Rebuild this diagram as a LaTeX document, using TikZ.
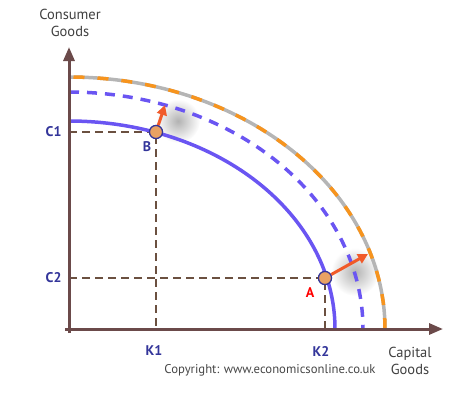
\documentclass[tikz,border=0pt]{standalone}
\usepackage{fontspec}
\setmainfont{PT Sans}
\usetikzlibrary{arrows.meta}
\definecolor{axiscol}{HTML}{6B4A4A}
\definecolor{ppfblue}{HTML}{6A55F2}
\definecolor{ppforange}{HTML}{F7941D}
\definecolor{ppfgray}{HTML}{B5B5B5}
\definecolor{arrowcol}{HTML}{F15A29}
\definecolor{navy}{HTML}{33359A}
\definecolor{dotfill}{HTML}{E9A263}
\definecolor{guide}{HTML}{6B5040}
\begin{document}
\begin{tikzpicture}[x=1pt,y=-1pt,
  axis/.style={axiscol,line width=3pt,-{Triangle[length=14pt,width=11pt]}},
  guideline/.style={guide,line width=1.1pt,dash pattern=on 8pt off 5pt},
  ppf/.style={ppfblue,line width=3.5pt},
  shiftarrow/.style={arrowcol,line width=3pt,-{Triangle[length=10pt,width=10pt]}},
  dot/.style={circle,draw=navy,fill=dotfill,line width=1.2pt,minimum size=13pt,inner sep=0pt},
  axlabel/.style={font=\fontsize{14.5}{17}\selectfont,text=black!75,align=center},
  ticklabel/.style={font=\bfseries\fontsize{14}{16}\selectfont,text=navy},
  ptlabel/.style={font=\bfseries\fontsize{14}{16}\selectfont}]
\useasboundingbox (0,0) rectangle (473,412);
% shadows
\shade[inner color=black!30,outer color=white] (178,121) circle (22);
\shade[inner color=black!30,outer color=white] (355,272) circle (24);
% coordinates
\coordinate (O) at (69,329);
\coordinate (ytop) at (69,47);
\coordinate (xend) at (443,329);
\coordinate (c1) at (69,132);
\coordinate (c2) at (69,278);
\coordinate (k1) at (156,329);
\coordinate (k2) at (325,329);
\coordinate (bt) at (165,105);
\coordinate (at) at (368,254);
% guide lines
\draw[guideline] (c1) -- (156,132) -- (k1);
\draw[guideline] (c2) -- (325,278) -- (k2);
% curves
\draw[ppf] plot[domain=0:90,samples=120] ({69+266*cos(\x)},{329-208*sin(\x)});
\draw[ppf,dash pattern=on 10pt off 8pt] plot[domain=90:0,samples=120] ({69+294*cos(\x)},{329-237*sin(\x)});
\draw[ppfgray,line width=3.5pt] plot[domain=0:90,samples=120] ({69+316*cos(\x)},{329-252*sin(\x)});
\draw[ppforange,line width=3.5pt,dash pattern=on 11pt off 13pt] plot[domain=0:90,samples=120] ({69+316*cos(\x)},{329-252*sin(\x)});
% axes
\draw[axis] (69,333) -- (ytop);
\draw[axis] (65,329) -- (xend);
% points and arrows
\node[dot] (B) at (156,132) {};
\node[dot] (A) at (325,278) {};
\draw[shiftarrow] (B) -- (bt);
\draw[shiftarrow] (A) -- (at);
\node[dot] at (B) {};
\node[dot] at (A) {};
% labels
\node[ptlabel,text=navy] (Bl) at (147,147) {B};
\node[ptlabel,text=red] (Al) at (310,293) {A};
\node[ticklabel,anchor=east] (C1) at (65,132) {C1};
\node[ticklabel,anchor=east] (C2) at (65,278) {C2};
\node[ticklabel] (K1) at (154,351) {K1};
\node[ticklabel] (K2) at (321,351) {K2};
\node[axlabel] (yl) at (70,23) {Consumer\\Goods};
\node[axlabel] (xl) at (410,361) {Capital\\Goods};
\node[font=\fontsize{12.7}{14}\selectfont,text=black!72] (copy) at (270,370) {Copyright: www.economicsonline.co.uk};
\end{tikzpicture}
\end{document}
